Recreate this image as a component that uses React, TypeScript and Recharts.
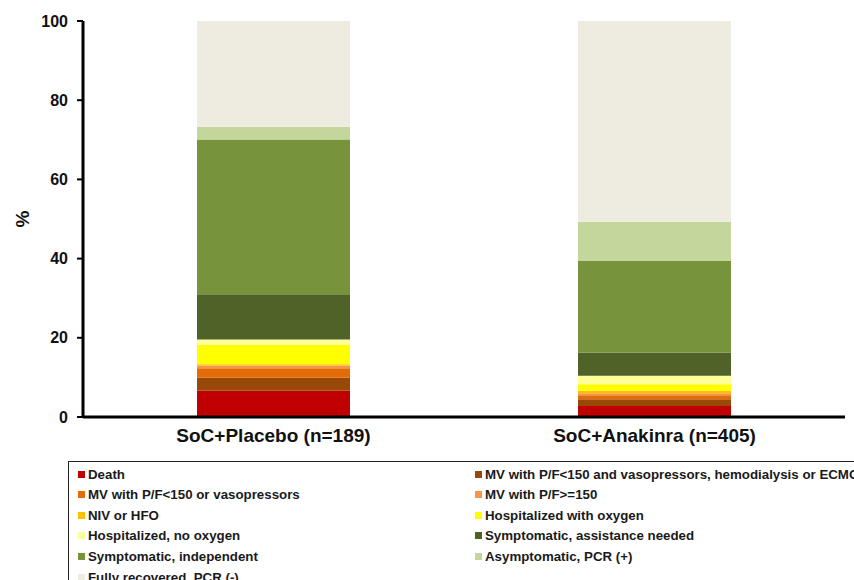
import React from 'react';
import { BarChart, Bar, XAxis, YAxis } from 'recharts';

// groups on the x axis
const categories = ['SoC+Placebo (n=189)', 'SoC+Anakinra (n=405)'];

// outcome levels, bottom of the stack first
const outcomes = [
  'Death',
  'MV with P/F<150 and vasopressors, hemodialysis or ECMO',
  'MV with P/F<150 or vasopressors',
  'MV with P/F>=150',
  'NIV or HFO',
  'Hospitalized with oxygen',
  'Hospitalized, no oxygen',
  'Symptomatic, assistance needed',
  'Symptomatic, independent',
  'Asymptomatic, PCR (+)',
  'Fully recovered, PCR (-)',
];

// % of patients per outcome, same order as outcomes
const placebo = [6.6, 3.3, 2.4, 0.7, 0.3, 4.9, 1.4, 11.4, 39.1, 3.2, 26.7];
const anakinra = [2.8, 1.7, 1.0, 0.5, 0.6, 1.7, 2.1, 5.9, 23.1, 9.9, 50.7];

const colors = [
  '#c00000',
  '#984807',
  '#e36c09',
  '#f79646',
  '#ffc000',
  '#ffff00',
  '#ffff99',
  '#4f6228',
  '#77933c',
  '#c3d69b',
  '#eeece1',
];

const yTicks = [0, 20, 40, 60, 80, 100];

const series = [placebo, anakinra];
const data = categories.map((name, i) => {
  const row: Record<string, string | number> = { name };
  outcomes.forEach((_, j) => {
    row['s' + j] = series[i][j];
  });
  return row;
});

// legend is laid out row by row in two columns
const legendOrder = outcomes.map((label, j) => ({ label, color: colors[j], col: j % 2, row: Math.floor(j / 2) }));

const font = '"Liberation Sans", Arial, sans-serif';

const App: React.FC = () => {
  return (
    <div style={{ position: 'absolute', top: 0, left: 0, width: 854, height: 580, overflow: 'hidden', background: '#fff', fontFamily: font }}>
      <BarChart width={854} height={460} data={data} margin={{ top: 21, right: 9, left: 0, bottom: 0 }}>
        <XAxis
          dataKey="name"
          height={43}
          tickLine={false}
          tickSize={6}
          tickMargin={6}
          axisLine={{ stroke: '#000', strokeWidth: 3 }}
          tick={{ fontSize: 19, fontWeight: 'bold', fill: '#111', fontFamily: font }}
        />
        <YAxis
          width={83}
          domain={[0, 100]}
          ticks={yTicks}
          interval={0}
          tickSize={6}
          tickMargin={9}
          axisLine={{ stroke: '#000', strokeWidth: 3 }}
          tickLine={{ stroke: '#000', strokeWidth: 2 }}
          tick={{ fontSize: 16, fontWeight: 'bold', fill: '#111', fontFamily: font }}
          label={{
            value: '%',
            angle: -90,
            position: 'insideLeft',
            offset: 22,
            style: { textAnchor: 'middle', fontSize: 19, fontWeight: 'bold', fill: '#111', fontFamily: font },
          }}
        />
        {outcomes.map((o, j) => (
          <Bar key={o} dataKey={'s' + j} name={o} stackId="a" fill={colors[j]} barSize={153} isAnimationActive={false} />
        ))}
      </BarChart>
      <div
        style={{
          position: 'absolute',
          top: 461,
          left: 68,
          width: 900,
          height: 140,
          borderTop: '1.5px solid #222',
          borderLeft: '1.5px solid #222',
        }}
      >
        {legendOrder.map((item) => (
          <div
            key={item.label}
            style={{
              position: 'absolute',
              left: item.col ? 406 : 9,
              top: 4 + item.row * 20.6,
              height: 16,
              display: 'flex',
              alignItems: 'center',
              whiteSpace: 'nowrap',
              fontSize: 13.3,
              fontWeight: 'bold',
              color: '#1a1a1a',
            }}
          >
            <span style={{ display: 'inline-block', width: 7, height: 7, background: item.color, marginRight: 3 }} />
            {item.label}
          </div>
        ))}
      </div>
    </div>
  );
};

export default App;
